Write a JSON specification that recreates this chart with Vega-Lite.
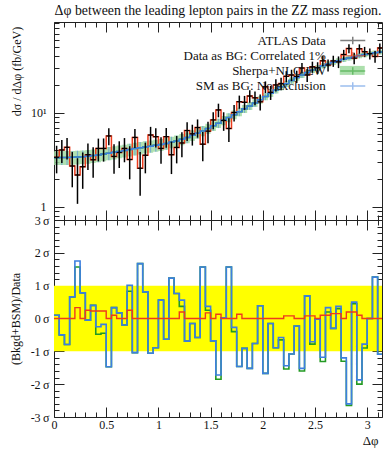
{
"$schema": "https://vega.github.io/schema/vega-lite/v6.json",
"padding": {"left": 8, "top": 3, "right": 4, "bottom": 4},
"background": "white",
"spacing": 0,
"bounds": "flush",
"config": {
 "font": "Liberation Serif",
 "view": {"stroke": "#222", "strokeWidth": 1},
 "axis": {"domain": false, "grid": false, "tickColor": "#222", "tickWidth": 1, "labelColor": "#111", "labelFont": "Liberation Serif", "titleFont": "Liberation Serif", "titleFontWeight": "normal", "labelFontSize": 12, "titleFontSize": 12, "titleColor": "#111", "zindex": 1, "labelFlush": false, "labelOverlap": false}
},
"resolve": {"scale": {"color": "independent", "fill": "independent"}, "legend": {"color": "independent", "fill": "independent"}},
"datasets": {"bins": [
{"k":0,"x0":0,"x1":0.05,"xc":0.025,"d":3.38,"dlo":2.28,"dhi":4.48,"sm":3.35,"tlo":2.79,"thi":3.92,"rb":0.10,"rg":0.10,"rr":0},
{"k":1,"x0":0.05,"x1":0.1,"xc":0.075,"d":4.04,"dlo":2.94,"dhi":5.15,"sm":3.36,"tlo":2.79,"thi":3.93,"rb":-0.50,"rg":-0.50,"rr":0},
{"k":2,"x0":0.1,"x1":0.15,"xc":0.125,"d":4.31,"dlo":3.20,"dhi":5.42,"sm":3.37,"tlo":2.80,"thi":3.94,"rb":-0.79,"rg":-0.79,"rr":0},
{"k":3,"x0":0.15,"x1":0.2,"xc":0.175,"d":2.73,"dlo":1.62,"dhi":3.84,"sm":3.38,"tlo":2.81,"thi":3.95,"rb":0.66,"rg":0.66,"rr":0},
{"k":4,"x0":0.2,"x1":0.25,"xc":0.225,"d":2.19,"dlo":1.08,"dhi":3.30,"sm":3.40,"tlo":2.83,"thi":3.97,"rb":1.75,"rg":1.57,"rr":0.33},
{"k":5,"x0":0.25,"x1":0.3,"xc":0.275,"d":2.68,"dlo":1.56,"dhi":3.80,"sm":3.43,"tlo":2.86,"thi":4.00,"rb":0.78,"rg":0.78,"rr":0},
{"k":6,"x0":0.3,"x1":0.35,"xc":0.325,"d":3.60,"dlo":2.48,"dhi":4.73,"sm":3.47,"tlo":2.89,"thi":4.05,"rb":-0.05,"rg":-0.05,"rr":0.25},
{"k":7,"x0":0.35,"x1":0.4,"xc":0.375,"d":3.18,"dlo":2.05,"dhi":4.31,"sm":3.52,"tlo":2.94,"thi":4.10,"rb":0.40,"rg":0.40,"rr":0.23},
{"k":8,"x0":0.4,"x1":0.45,"xc":0.425,"d":4.20,"dlo":3.06,"dhi":5.34,"sm":3.58,"tlo":3.00,"thi":4.17,"rb":-0.25,"rg":-0.48,"rr":0.23},
{"k":9,"x0":0.45,"x1":0.5,"xc":0.475,"d":4.20,"dlo":3.04,"dhi":5.36,"sm":3.66,"tlo":3.07,"thi":4.25,"rb":-0.18,"rg":-0.45,"rr":0.23},
{"k":10,"x0":0.5,"x1":0.55,"xc":0.525,"d":5.70,"dlo":4.53,"dhi":6.87,"sm":3.74,"tlo":3.14,"thi":4.34,"rb":-1.47,"rg":-1.47,"rr":0},
{"k":11,"x0":0.55,"x1":0.6,"xc":0.575,"d":3.45,"dlo":2.26,"dhi":4.64,"sm":3.82,"tlo":3.21,"thi":4.43,"rb":0.33,"rg":0.33,"rr":0.1},
{"k":12,"x0":0.6,"x1":0.65,"xc":0.625,"d":3.80,"dlo":2.60,"dhi":5.00,"sm":3.90,"tlo":3.29,"thi":4.51,"rb":0.17,"rg":0.17,"rr":0},
{"k":13,"x0":0.65,"x1":0.7,"xc":0.675,"d":4.20,"dlo":2.99,"dhi":5.41,"sm":3.98,"tlo":3.36,"thi":4.60,"rb":-0.20,"rg":-0.20,"rr":0},
{"k":14,"x0":0.7,"x1":0.75,"xc":0.725,"d":3.20,"dlo":1.97,"dhi":4.43,"sm":4.08,"tlo":3.45,"thi":4.71,"rb":1.01,"rg":0.83,"rr":0.25},
{"k":15,"x0":0.75,"x1":0.8,"xc":0.775,"d":5.50,"dlo":4.25,"dhi":6.75,"sm":4.18,"tlo":3.54,"thi":4.82,"rb":-1.04,"rg":-1.04,"rr":0},
{"k":16,"x0":0.8,"x1":0.85,"xc":0.825,"d":2.58,"dlo":1.32,"dhi":3.84,"sm":4.26,"tlo":3.62,"thi":4.90,"rb":1.67,"rg":1.67,"rr":0},
{"k":17,"x0":0.85,"x1":0.9,"xc":0.875,"d":3.55,"dlo":2.28,"dhi":4.83,"sm":4.35,"tlo":3.70,"thi":5.00,"rb":0.81,"rg":0.81,"rr":0},
{"k":18,"x0":0.9,"x1":0.95,"xc":0.925,"d":5.83,"dlo":4.54,"dhi":7.12,"sm":4.44,"tlo":3.78,"thi":5.10,"rb":-1.06,"rg":-1.06,"rr":0},
{"k":19,"x0":0.95,"x1":1.0,"xc":0.975,"d":5.60,"dlo":4.30,"dhi":6.90,"sm":4.53,"tlo":3.87,"thi":5.19,"rb":-0.89,"rg":-0.89,"rr":0},
{"k":20,"x0":1.0,"x1":1.05,"xc":1.025,"d":4.20,"dlo":2.88,"dhi":5.52,"sm":4.62,"tlo":3.95,"thi":5.29,"rb":0.56,"rg":0.56,"rr":0},
{"k":21,"x0":1.05,"x1":1.1,"xc":1.075,"d":5.60,"dlo":4.26,"dhi":6.94,"sm":4.75,"tlo":4.07,"thi":5.43,"rb":-0.63,"rg":-0.63,"rr":0},
{"k":22,"x0":1.1,"x1":1.15,"xc":1.125,"d":3.60,"dlo":2.24,"dhi":4.96,"sm":4.90,"tlo":4.21,"thi":5.59,"rb":1.23,"rg":1.23,"rr":0},
{"k":23,"x0":1.15,"x1":1.2,"xc":1.175,"d":4.30,"dlo":2.91,"dhi":5.69,"sm":5.05,"tlo":4.35,"thi":5.75,"rb":0.76,"rg":0.76,"rr":0},
{"k":24,"x0":1.2,"x1":1.25,"xc":1.225,"d":4.80,"dlo":3.38,"dhi":6.22,"sm":5.25,"tlo":4.53,"thi":5.97,"rb":0.56,"rg":0.37,"rr":0.2},
{"k":25,"x0":1.25,"x1":1.3,"xc":1.275,"d":6.50,"dlo":5.05,"dhi":7.96,"sm":5.50,"tlo":4.76,"thi":6.24,"rb":-0.69,"rg":-0.69,"rr":0},
{"k":26,"x0":1.3,"x1":1.35,"xc":1.325,"d":6.00,"dlo":4.50,"dhi":7.50,"sm":5.80,"tlo":5.04,"thi":6.56,"rb":-0.15,"rg":-0.15,"rr":0},
{"k":27,"x0":1.35,"x1":1.4,"xc":1.375,"d":7.00,"dlo":5.46,"dhi":8.54,"sm":6.10,"tlo":5.32,"thi":6.88,"rb":-0.58,"rg":-0.58,"rr":0},
{"k":28,"x0":1.4,"x1":1.45,"xc":1.425,"d":4.66,"dlo":3.07,"dhi":6.26,"sm":6.45,"tlo":5.65,"thi":7.25,"rb":1.57,"rg":1.57,"rr":0},
{"k":29,"x0":1.45,"x1":1.5,"xc":1.475,"d":6.41,"dlo":4.76,"dhi":8.06,"sm":6.85,"tlo":6.02,"thi":7.68,"rb":0.37,"rg":0.25,"rr":0.17},
{"k":30,"x0":1.5,"x1":1.55,"xc":1.525,"d":8.44,"dlo":6.73,"dhi":10.16,"sm":7.30,"tlo":6.44,"thi":8.16,"rb":-0.68,"rg":-0.68,"rr":0},
{"k":31,"x0":1.55,"x1":1.6,"xc":1.575,"d":10.78,"dlo":9.00,"dhi":12.56,"sm":7.80,"tlo":6.91,"thi":8.69,"rb":-1.72,"rg":-1.85,"rr":0.13},
{"k":32,"x0":1.6,"x1":1.65,"xc":1.625,"d":8.32,"dlo":6.46,"dhi":10.18,"sm":8.35,"tlo":7.42,"thi":9.28,"rb":0.02,"rg":0.02,"rr":0},
{"k":33,"x0":1.65,"x1":1.7,"xc":1.675,"d":6.84,"dlo":4.90,"dhi":8.78,"sm":8.95,"tlo":7.98,"thi":9.92,"rb":1.57,"rg":1.57,"rr":0},
{"k":34,"x0":1.7,"x1":1.75,"xc":1.725,"d":10.12,"dlo":8.10,"dhi":12.14,"sm":9.60,"tlo":8.59,"thi":10.61,"rb":-0.27,"rg":-0.40,"rr":0},
{"k":35,"x0":1.75,"x1":1.8,"xc":1.775,"d":13.20,"dlo":11.09,"dhi":15.31,"sm":10.30,"tlo":9.25,"thi":11.35,"rb":-1.46,"rg":-1.46,"rr":0.13},
{"k":36,"x0":1.8,"x1":1.85,"xc":1.825,"d":12.98,"dlo":10.77,"dhi":15.19,"sm":11.10,"tlo":10.01,"thi":12.19,"rb":-0.91,"rg":-0.91,"rr":0},
{"k":37,"x0":1.85,"x1":1.9,"xc":1.875,"d":15.15,"dlo":12.84,"dhi":17.46,"sm":11.90,"tlo":10.76,"thi":13.04,"rb":-1.52,"rg":-1.52,"rr":0},
{"k":38,"x0":1.9,"x1":1.95,"xc":1.925,"d":14.49,"dlo":12.07,"dhi":16.91,"sm":12.80,"tlo":11.61,"thi":13.99,"rb":-0.76,"rg":-0.76,"rr":0},
{"k":39,"x0":1.95,"x1":2.0,"xc":1.975,"d":13.15,"dlo":10.61,"dhi":15.69,"sm":13.80,"tlo":12.56,"thi":15.04,"rb":0.39,"rg":0.39,"rr":0},
{"k":40,"x0":2.0,"x1":2.05,"xc":2.025,"d":19.00,"dlo":16.32,"dhi":21.68,"sm":15.00,"tlo":13.69,"thi":16.31,"rb":-1.67,"rg":-1.67,"rr":0},
{"k":41,"x0":2.05,"x1":2.1,"xc":2.075,"d":16.58,"dlo":13.76,"dhi":19.40,"sm":16.20,"tlo":14.83,"thi":17.57,"rb":-0.15,"rg":-0.15,"rr":0},
{"k":42,"x0":2.1,"x1":2.15,"xc":2.125,"d":19.90,"dlo":16.92,"dhi":22.88,"sm":17.60,"tlo":16.16,"thi":19.04,"rb":-0.89,"rg":-0.89,"rr":0},
{"k":43,"x0":2.15,"x1":2.2,"xc":2.175,"d":20.57,"dlo":17.43,"dhi":23.71,"sm":19.00,"tlo":17.49,"thi":20.51,"rb":-0.58,"rg":-0.65,"rr":0},
{"k":44,"x0":2.2,"x1":2.25,"xc":2.225,"d":24.55,"dlo":21.24,"dhi":27.86,"sm":20.50,"tlo":18.91,"thi":22.09,"rb":-1.44,"rg":-1.54,"rr":0.08},
{"k":45,"x0":2.25,"x1":2.3,"xc":2.275,"d":25.35,"dlo":21.85,"dhi":28.85,"sm":22.20,"tlo":20.53,"thi":23.87,"rb":-1.08,"rg":-1.08,"rr":0.08},
{"k":46,"x0":2.3,"x1":2.35,"xc":2.325,"d":24.50,"dlo":20.82,"dhi":28.18,"sm":23.80,"tlo":22.05,"thi":25.55,"rb":-0.23,"rg":-0.23,"rr":0},
{"k":47,"x0":2.35,"x1":2.4,"xc":2.375,"d":30.10,"dlo":26.25,"dhi":33.95,"sm":25.40,"tlo":23.58,"thi":27.22,"rb":-1.52,"rg":-1.60,"rr":0},
{"k":48,"x0":2.4,"x1":2.45,"xc":2.425,"d":25.40,"dlo":21.38,"dhi":29.43,"sm":27.00,"tlo":25.10,"thi":28.90,"rb":0.69,"rg":0.69,"rr":0.08},
{"k":49,"x0":2.45,"x1":2.5,"xc":2.475,"d":30.96,"dlo":26.76,"dhi":35.16,"sm":28.60,"tlo":26.63,"thi":30.57,"rb":-0.71,"rg":-0.78,"rr":0.08},
{"k":50,"x0":2.5,"x1":2.55,"xc":2.525,"d":30.30,"dlo":25.93,"dhi":34.67,"sm":30.20,"tlo":28.16,"thi":32.24,"rb":-0.02,"rg":-0.02,"rr":0},
{"k":51,"x0":2.55,"x1":2.6,"xc":2.575,"d":35.90,"dlo":31.36,"dhi":40.44,"sm":31.80,"tlo":29.68,"thi":33.92,"rb":-1.18,"rg":-1.31,"rr":0.1},
{"k":52,"x0":2.6,"x1":2.65,"xc":2.625,"d":32.40,"dlo":27.70,"dhi":37.10,"sm":33.30,"tlo":31.12,"thi":35.48,"rb":0.33,"rg":0.20,"rr":0.1},
{"k":53,"x0":2.65,"x1":2.7,"xc":2.675,"d":35.80,"dlo":30.95,"dhi":40.65,"sm":34.70,"tlo":32.45,"thi":36.95,"rb":-0.30,"rg":-0.30,"rr":0.15},
{"k":54,"x0":2.7,"x1":2.75,"xc":2.725,"d":35.00,"dlo":30.02,"dhi":39.98,"sm":36.00,"tlo":33.70,"thi":38.31,"rb":0.37,"rg":0.30,"rr":0.15},
{"k":55,"x0":2.75,"x1":2.8,"xc":2.775,"d":41.85,"dlo":36.73,"dhi":46.97,"sm":37.30,"tlo":34.94,"thi":39.66,"rb":-1.20,"rg":-1.30,"rr":0},
{"k":56,"x0":2.8,"x1":2.85,"xc":2.825,"d":48.50,"dlo":43.25,"dhi":53.75,"sm":38.50,"tlo":36.08,"thi":40.92,"rb":-2.60,"rg":-2.65,"rr":0.2},
{"k":57,"x0":2.85,"x1":2.9,"xc":2.875,"d":38.30,"dlo":32.93,"dhi":43.67,"sm":39.70,"tlo":37.23,"thi":42.17,"rb":0.50,"rg":0.45,"rr":0.2},
{"k":58,"x0":2.9,"x1":2.95,"xc":2.925,"d":48.20,"dlo":42.71,"dhi":53.69,"sm":40.80,"tlo":38.28,"thi":43.32,"rb":-1.87,"rg":-2.00,"rr":0.1},
{"k":59,"x0":2.95,"x1":3.0,"xc":2.975,"d":44.90,"dlo":39.31,"dhi":50.49,"sm":41.80,"tlo":39.24,"thi":44.36,"rb":-0.78,"rg":-0.90,"rr":0},
{"k":60,"x0":3.0,"x1":3.05,"xc":3.025,"d":42.80,"dlo":37.10,"dhi":48.50,"sm":42.80,"tlo":40.20,"thi":45.40,"rb":0.00,"rg":0.00,"rr":0},
{"k":61,"x0":3.05,"x1":3.1,"xc":3.075,"d":39.96,"dlo":34.17,"dhi":45.75,"sm":43.70,"tlo":41.06,"thi":46.34,"rb":1.26,"rg":1.26,"rr":0},
{"k":62,"x0":3.1,"x1":3.14159,"xc":3.1208,"d":49.00,"dlo":43.13,"dhi":54.87,"sm":44.50,"tlo":41.82,"thi":47.18,"rb":-1.09,"rg":-1.09,"rr":0},
{"k":63,"x0":3.14159,"x1":3.14159,"xc":3.14159,"d":49.00,"dlo":43.13,"dhi":54.87,"sm":44.50,"tlo":41.82,"thi":47.18,"rb":-1.09,"rg":-1.09,"rr":0}
]},
"vconcat": [
{
 "width": 328, "height": 198,
 "title": {"text": "Δφ between the leading lepton pairs in the ZZ mass region.", "font": "Liberation Serif", "fontSize": 13.8, "fontWeight": "normal", "color": "#111", "anchor": "middle", "frame": "group", "baseline": "alphabetic", "offset": -7},
 "data": {"name": "bins"},
 "resolve": {"axis": {"x": "independent", "y": "independent"}},
 "layer": [
  {"mark": {"type": "area", "interpolate": "step-after", "opacity": 0.85},
   "encoding": {
    "x": {"field": "x0", "type": "quantitative", "scale": {"domain": [0, 3.14159], "nice": false, "zero": false},
          "axis": {"orient": "bottom", "values": [0, 0.5, 1, 1.5, 2, 2.5, 3], "tickSize": -10, "labels": false, "title": null}},
    "y": {"field": "tlo", "type": "quantitative", "scale": {"type": "log", "domain": [0.727, 92.9], "nice": false},
          "axis": {"orient": "left", "values": [1, 10], "tickSize": -10, "labelPadding": 18, "labelExpr": "datum.value == 10 ? '10¹' : '1'", "title": "dσ / dΔφ (fb/GeV)", "titleX": -31, "titleY": 49}},
    "y2": {"field": "thi"},
    "fill": {"datum": "Sherpa band", "type": "nominal",
             "scale": {"domain": ["Data band", "BG band", "Sherpa band", "SM band"], "range": ["transparent", "transparent", "#a3dca3", "transparent"]},
             "legend": {"orient": "none", "legendX": 291.75, "legendY": 11.5, "title": null, "padding": 0, "symbolType": "M-2,-0.72H2V0.72H-2Z", "symbolSize": 156.25, "symbolStrokeWidth": 0, "symbolStrokeColor": "transparent", "symbolOpacity": 0.9, "labelAlign": "right", "labelOffset": -34, "labelFontSize": 13, "labelFont": "Liberation Serif", "labelExpr": "' '", "rowPadding": 1.2, "labelLimit": 0, "zindex": 0}}
   }},
  {"mark": {"type": "line", "interpolate": "step-after", "strokeWidth": 1.5},
   "encoding": {
    "x": {"field": "x0", "type": "quantitative", "scale": {"domain": [0, 3.14159], "nice": false, "zero": false},
          "axis": {"orient": "bottom", "values": [0.1,0.2,0.3,0.4,0.6,0.7,0.8,0.9,1.1,1.2,1.3,1.4,1.6,1.7,1.8,1.9,2.1,2.2,2.3,2.4,2.6,2.7,2.8,2.9,3.1], "tickSize": -5, "labels": false, "title": null}},
    "y": {"field": "sm", "type": "quantitative", "scale": {"type": "log", "domain": [0.727, 92.9], "nice": false},
          "axis": {"orient": "left", "values": [0.8,0.9,2,3,4,5,6,7,8,9,20,30,40,50,60,70,80,90], "tickSize": -5, "labels": false, "title": null}},
    "color": {"datum": "Sherpa+NLO EW", "type": "nominal",
              "scale": {"domain": ["ATLAS Data", "Data as BG: Correlated 1%", "Sherpa+NLO EW", "SM as BG: No exclusion"], "range": ["#000000", "#ee3b1c", "#239a23", "#3d7fe0"]},
              "legend": {"orient": "none", "legendX": 291.75, "legendY": 11.5, "title": null, "padding": 0, "symbolType": "M-2,0H2M0,-0.6V0.6", "symbolSize": 156.25, "symbolStrokeWidth": 1.5, "labelAlign": "right", "labelOffset": -34, "labelFontSize": 13, "labelFont": "Liberation Serif", "labelColor": "#111", "rowPadding": 1.2, "labelLimit": 0, "zindex": 1}}
   }},
  {"mark": {"type": "line", "interpolate": "step-after", "strokeWidth": 1.5},
   "encoding": {
    "x": {"field": "x0", "type": "quantitative", "scale": {"domain": [0, 3.14159], "nice": false, "zero": false},
          "axis": {"orient": "top", "values": [0, 0.5, 1, 1.5, 2, 2.5, 3], "tickSize": -10, "labels": false, "title": null}},
    "y": {"field": "d", "type": "quantitative", "scale": {"type": "log", "domain": [0.727, 92.9], "nice": false},
          "axis": {"orient": "right", "values": [1, 10], "tickSize": -10, "labels": false, "title": null}},
    "color": {"datum": "Data as BG: Correlated 1%", "type": "nominal"}
   }},
  {"mark": {"type": "line", "interpolate": "step-after", "strokeWidth": 1.5},
   "encoding": {
    "x": {"field": "x0", "type": "quantitative", "scale": {"domain": [0, 3.14159], "nice": false, "zero": false},
          "axis": {"orient": "top", "values": [0.1,0.2,0.3,0.4,0.6,0.7,0.8,0.9,1.1,1.2,1.3,1.4,1.6,1.7,1.8,1.9,2.1,2.2,2.3,2.4,2.6,2.7,2.8,2.9,3.1], "tickSize": -5, "labels": false, "title": null}},
    "y": {"field": "sm", "type": "quantitative", "scale": {"type": "log", "domain": [0.727, 92.9], "nice": false},
          "axis": {"orient": "right", "values": [0.8,0.9,2,3,4,5,6,7,8,9,20,30,40,50,60,70,80,90], "tickSize": -5, "labels": false, "title": null}},
    "color": {"datum": "SM as BG: No exclusion", "type": "nominal"}
   }},
  {"transform": [{"filter": "datum.k < 63"}],
   "mark": {"type": "rule", "strokeWidth": 1.2, "opacity": 0.5},
   "encoding": {
    "x": {"field": "xc", "type": "quantitative", "scale": {"domain": [0, 3.14159], "nice": false, "zero": false}, "axis": null},
    "y": {"field": "tlo", "type": "quantitative", "scale": {"type": "log", "domain": [0.727, 92.9], "nice": false}, "axis": null},
    "y2": {"field": "thi"},
    "color": {"datum": "SM as BG: No exclusion", "type": "nominal"}
   }},
  {"transform": [{"filter": "datum.k < 63"}],
   "mark": {"type": "rule", "strokeWidth": 1.2},
   "encoding": {
    "x": {"field": "x0", "type": "quantitative", "scale": {"domain": [0, 3.14159], "nice": false, "zero": false}, "axis": null},
    "x2": {"field": "x1"},
    "y": {"field": "d", "type": "quantitative", "scale": {"type": "log", "domain": [0.727, 92.9], "nice": false}, "axis": null},
    "color": {"datum": "ATLAS Data", "type": "nominal"}
   }},
  {"transform": [{"filter": "datum.k < 63"}],
   "mark": {"type": "rule", "strokeWidth": 1.5},
   "encoding": {
    "x": {"field": "xc", "type": "quantitative", "scale": {"domain": [0, 3.14159], "nice": false, "zero": false}, "axis": null},
    "y": {"field": "dlo", "type": "quantitative", "scale": {"type": "log", "domain": [0.727, 92.9], "nice": false}, "axis": null},
    "y2": {"field": "dhi"},
    "color": {"datum": "ATLAS Data", "type": "nominal"}
   }}
 ]
},
{
 "width": 328, "height": 197,
 "resolve": {"axis": {"x": "independent", "y": "independent"}},
 "layer": [
  {"data": {"values": [{"x0": 0, "x1": 3.14159, "lo": -1, "hi": 1}]},
   "mark": {"type": "rect", "color": "#ffff00"},
   "encoding": {
    "x": {"field": "x0", "type": "quantitative", "scale": {"domain": [0, 3.14159], "nice": false, "zero": false},
          "axis": {"orient": "bottom", "values": [0, 0.5, 1, 1.5, 2, 2.5, 3], "tickSize": -10, "format": "~g", "labelPadding": 12, "title": "Δφ", "titleFontSize": 13, "titleX": 324, "titleY": 17, "titleAlign": "right", "titleBaseline": "top"}},
    "x2": {"field": "x1"},
    "y": {"field": "lo", "type": "quantitative", "scale": {"domain": [-3, 3], "nice": false, "zero": false},
          "axis": {"orient": "left", "values": [-3, -2, -1, 0, 1, 2, 3], "tickSize": -10, "labelPadding": 15, "labelExpr": "datum.value + '\u2009σ'", "title": "(Bkgd+BSM)/Data", "titleX": -32}},
    "y2": {"field": "hi"}
   }},
  {"data": {"name": "bins"},
   "mark": {"type": "line", "interpolate": "step-after", "strokeWidth": 1.6, "color": "#239a23"},
   "encoding": {
    "x": {"field": "x0", "type": "quantitative", "scale": {"domain": [0, 3.14159], "nice": false, "zero": false},
          "axis": {"orient": "bottom", "values": [0.1,0.2,0.3,0.4,0.6,0.7,0.8,0.9,1.1,1.2,1.3,1.4,1.6,1.7,1.8,1.9,2.1,2.2,2.3,2.4,2.6,2.7,2.8,2.9,3.1], "tickSize": -5, "labels": false, "title": null}},
    "y": {"field": "rg", "type": "quantitative", "scale": {"domain": [-3, 3], "nice": false, "zero": false},
          "axis": {"orient": "left", "values": [-2.8,-2.6,-2.4,-2.2,-1.8,-1.6,-1.4,-1.2,-0.8,-0.6,-0.4,-0.2,0.2,0.4,0.6,0.8,1.2,1.4,1.6,1.8,2.2,2.4,2.6,2.8], "tickSize": -5, "labels": false, "title": null}}
   }},
  {"data": {"name": "bins"},
   "mark": {"type": "line", "interpolate": "step-after", "strokeWidth": 1.6, "color": "#3d7fe0"},
   "encoding": {
    "x": {"field": "x0", "type": "quantitative", "scale": {"domain": [0, 3.14159], "nice": false, "zero": false},
          "axis": {"orient": "top", "values": [0, 0.5, 1, 1.5, 2, 2.5, 3], "tickSize": -10, "labels": false, "title": null}},
    "y": {"field": "rb", "type": "quantitative", "scale": {"domain": [-3, 3], "nice": false, "zero": false},
          "axis": {"orient": "right", "values": [-3, -2, -1, 0, 1, 2, 3], "tickSize": -10, "labels": false, "title": null}}
   }},
  {"data": {"name": "bins"},
   "mark": {"type": "line", "interpolate": "step-after", "strokeWidth": 1.4, "color": "#ee3b1c"},
   "encoding": {
    "x": {"field": "x0", "type": "quantitative", "scale": {"domain": [0, 3.14159], "nice": false, "zero": false},
          "axis": {"orient": "top", "values": [0.1,0.2,0.3,0.4,0.6,0.7,0.8,0.9,1.1,1.2,1.3,1.4,1.6,1.7,1.8,1.9,2.1,2.2,2.3,2.4,2.6,2.7,2.8,2.9,3.1], "tickSize": -5, "labels": false, "title": null}},
    "y": {"field": "rr", "type": "quantitative", "scale": {"domain": [-3, 3], "nice": false, "zero": false},
          "axis": {"orient": "right", "values": [-2.8,-2.6,-2.4,-2.2,-1.8,-1.6,-1.4,-1.2,-0.8,-0.6,-0.4,-0.2,0.2,0.4,0.6,0.8,1.2,1.4,1.6,1.8,2.2,2.4,2.6,2.8], "tickSize": -5, "labels": false, "title": null}}
   }}
 ]
}
]
}
